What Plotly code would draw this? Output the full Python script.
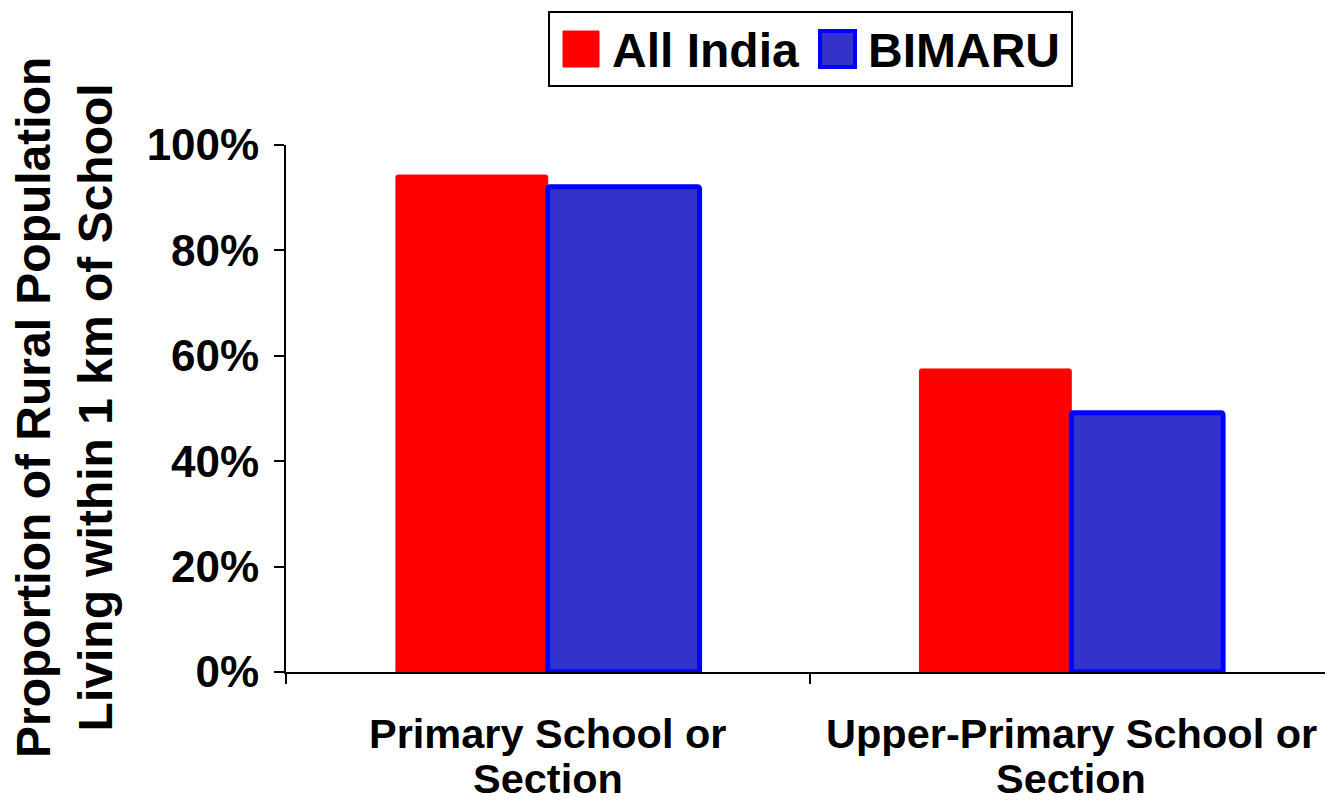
import plotly.graph_objects as go

# data
categories = ["Primary School or Section", "Upper-Primary School or Section"]
label_line1 = ["Primary School or", "Upper-Primary School or"]
label_line2 = ["Section", "Section"]
series_names = ["All India", "BIMARU"]
all_india = [0.943, 0.575]
bimaru = [0.921, 0.492]
y_ticks = [0, 0.2, 0.4, 0.6, 0.8, 1.0]
y_tick_labels = ["0%", "20%", "40%", "60%", "80%", "100%"]

FONT = "Arial, Liberation Sans, sans-serif"
RED = "#FF0000"
BLUE_FILL = "#3333CC"
BLUE_LINE = "#0000FF"

fig = go.Figure()
fig.add_trace(go.Bar(x=categories, y=all_india, name=series_names[0],
                     marker=dict(color=RED, line=dict(color=RED, width=1), cornerradius=2)))
fig.add_trace(go.Bar(x=categories, y=bimaru, name=series_names[1],
                     marker=dict(color=BLUE_FILL, line=dict(color=BLUE_LINE, width=5), cornerradius=2)))

# the page body has an 8px margin, so the figure sits at (8, 8)
OFF = 8
W, H = 1333 - OFF, 802 - OFF
L, R, T, B = 286 - OFF, 0, 145 - OFF, 802 - 672
pw, ph = W - L - R, H - T - B


def px_x(p):
    # screen pixel -> paper x
    return (p - OFF - L) / pw


def px_y(p):
    # screen pixel -> paper y
    return (H - B - (p - OFF)) / ph


fig.update_layout(
    width=W, height=H,
    margin=dict(l=L, r=R, t=T, b=B, autoexpand=False),
    plot_bgcolor="white", paper_bgcolor="white",
    barmode="group", bargap=0.42, bargroupgap=0,
    showlegend=False,
    font=dict(family=FONT, color="black"),
)

fig.update_xaxes(
    automargin=False,
    showline=True, linecolor="black", linewidth=2,
    ticks="outside", tickson="boundaries", ticklen=10, tickcolor="black", tickwidth=2,
    showticklabels=False,
    showgrid=False,
)
fig.update_yaxes(
    automargin=False,
    range=[0, 1.0], tickvals=y_ticks, ticktext=y_tick_labels,
    showline=True, linecolor="black", linewidth=2,
    ticks="outside", ticklen=10, tickcolor="black", tickwidth=2,
    tickfont=dict(size=44, family=FONT, color="black", weight="bold"),
    ticklabelstandoff=6,
    showgrid=False, zeroline=False,
)

# category labels, two lines with tight spacing
for cat, l1, l2 in zip(categories, label_line1, label_line2):
    for txt, yc in ((l1, 733), (l2, 778)):
        fig.add_annotation(text=txt, xref="x", yref="paper", x=cat, y=px_y(yc),
                           xanchor="center", yanchor="middle", showarrow=False,
                           font=dict(size=41.5, family=FONT, color="black", weight="bold"))

# y-axis title
fig.add_annotation(
    text="Proportion of Rural Population<br>Living within 1 km of School",
    textangle=-90, xref="paper", yref="paper",
    x=px_x(64), y=px_y(408), xanchor="center", yanchor="middle",
    showarrow=False,
    font=dict(size=48, family=FONT, color="black", weight="bold"),
)

# legend box drawn by hand so the swatches can be large
fig.add_shape(type="rect", xref="paper", yref="paper",
              x0=px_x(549), x1=px_x(1072), y0=px_y(12), y1=px_y(86),
              line=dict(color="black", width=2), fillcolor="white")
swatches = [(563, 599, RED, RED, 1), (820, 855, BLUE_FILL, BLUE_LINE, 4)]
text_left = [610, 866]
for (x0, x1, fill, line, lw), tx, name in zip(swatches, text_left, series_names):
    fig.add_shape(type="rect", xref="paper", yref="paper",
                  x0=px_x(x0), x1=px_x(x1), y0=px_y(31), y1=px_y(67),
                  line=dict(color=line, width=lw), fillcolor=fill)
    fig.add_annotation(text=name, xref="paper", yref="paper",
                       x=px_x(tx), y=px_y(50), xanchor="left", yanchor="middle",
                       showarrow=False,
                       font=dict(size=48, family=FONT, color="black", weight="bold"))

fig.write_html("out.html")
